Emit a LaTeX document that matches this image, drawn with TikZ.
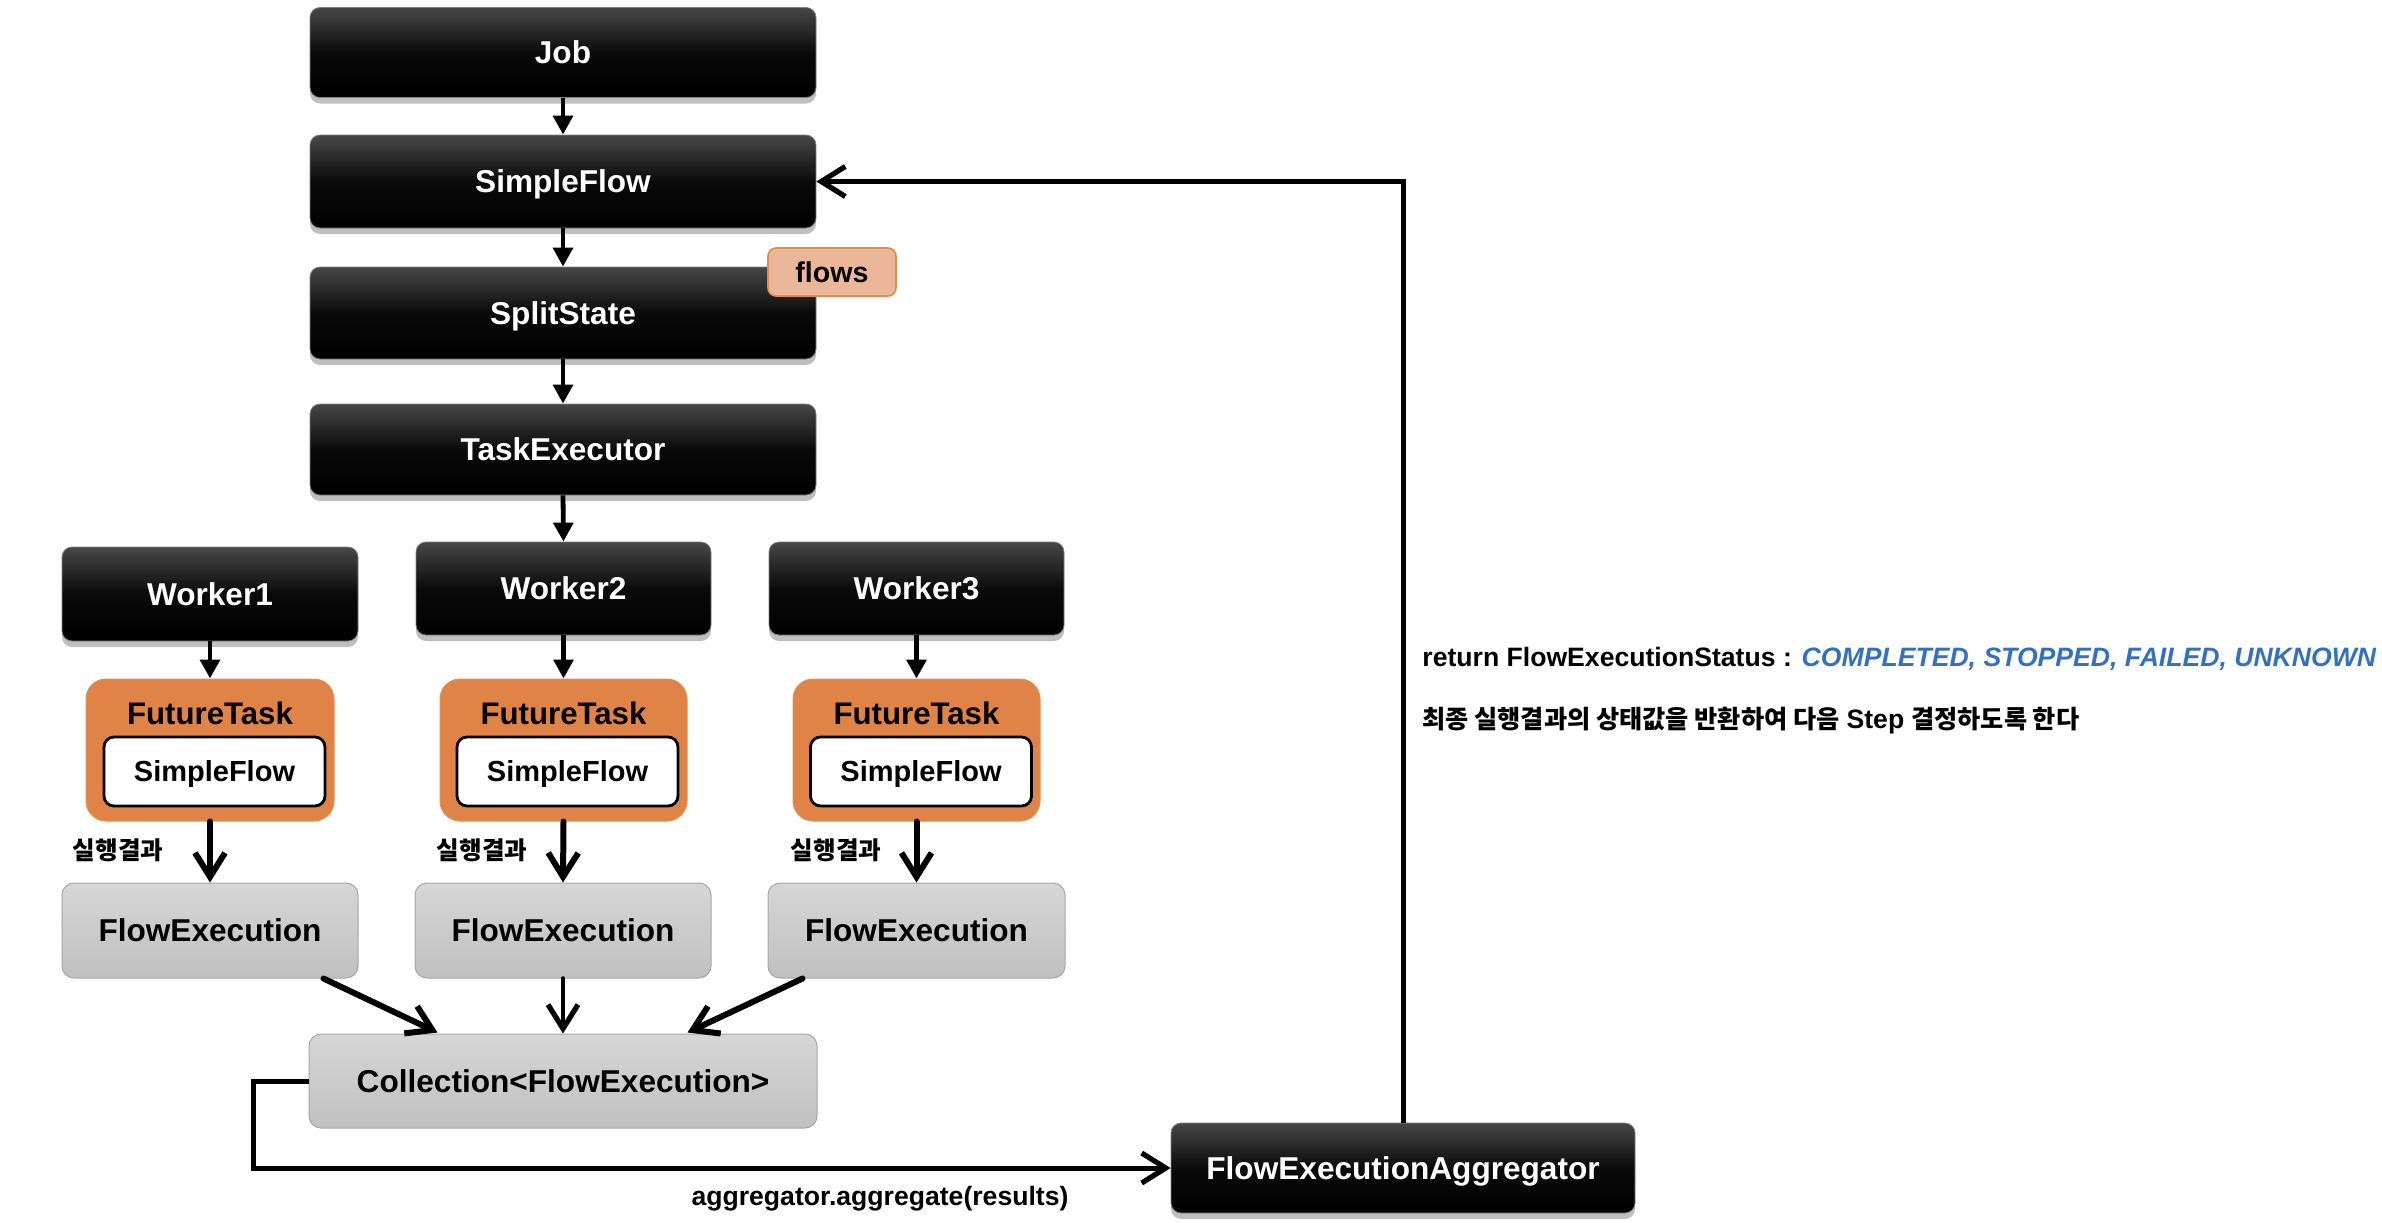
\documentclass[tikz,border=0pt]{standalone}
\usepackage{fontspec}
\setmainfont{Liberation Sans}
\newfontfamily\kr{Noto Sans CJK KR}
\usetikzlibrary{arrows.meta,shadows,calc}
\definecolor{ftorange}{RGB}{224,131,70}
\definecolor{flowsfill}{RGB}{236,182,152}
\definecolor{flowsdraw}{RGB}{226,138,80}
\definecolor{greytop}{RGB}{214,214,214}
\definecolor{greybot}{RGB}{192,192,192}
\definecolor{statusblue}{RGB}{52,112,192}
\begin{document}
\begin{tikzpicture}[x=0.5pt,y=-0.5pt,
  blackbox/.style={rounded corners=5pt, top color=black!72, bottom color=black, middle color=black!96,
    draw=black!50, line width=0.4pt, text=white, inner sep=0pt,
    font=\bfseries\fontsize{15.8}{18}\selectfont, text height=11.3pt, text depth=0pt,
    drop shadow={shadow xshift=0pt, shadow yshift=-3pt, opacity=0.25, fill=black}},
  greybox/.style={rounded corners=6pt, top color=greytop, bottom color=greybot,
    draw=black!35, line width=0.5pt, text=black, inner sep=0pt,
    font=\bfseries\fontsize{15.8}{18}\selectfont, text height=11.3pt, text depth=0pt},
  orangebox/.style={rounded corners=10pt, fill=ftorange, draw=ftorange!90!white, line width=0.5pt, inner sep=0pt},
  innerbox/.style={rounded corners=5pt, fill=white, draw=black, line width=1.4pt, inner sep=0pt,
    font=\bfseries\fontsize{14.5}{17}\selectfont, text height=10.4pt, text depth=0pt},
  tasklabel/.style={font=\bfseries\fontsize{15.6}{18}\selectfont, inner sep=0pt, text height=11.2pt, text depth=0pt},
  flowsbox/.style={rounded corners=4pt, fill=flowsfill, draw=flowsdraw, line width=0.8pt, inner sep=0pt,
    font=\bfseries\fontsize{14.3}{17}\selectfont, text height=10.4pt, text depth=0pt},
  tri/.style={line width=2.4pt, -{Triangle[length=9.5pt,width=9.75pt]}},
  barb/.style={line width=3pt, line cap=round, -{Straight Barb[length=12pt,width=15pt,line width=3pt]}},
  thinbarb/.style={line width=2.3pt, line cap=round, -{Straight Barb[length=12pt,width=15pt,line width=2.6pt]}},
  loopline/.style={line width=2.5pt, -{Straight Barb[length=12pt,width=15pt,line width=2.6pt]}},
  krlabel/.style={font=\kr\bfseries\fontsize{12.3}{14}\selectfont, inner sep=0pt},
  plain/.style={font=\bfseries\fontsize{13.3}{16}\selectfont, inner sep=0pt, text height=9.5pt, text depth=0pt}
]
\useasboundingbox (0,0) rectangle (2382,1222);

% main column
\node[blackbox, minimum width=253pt, minimum height=45pt] (job) at (563,52.5) {Job};
\node[blackbox, minimum width=253pt, minimum height=46.5pt] (sf) at (563,181.5) {SimpleFlow};
\node[blackbox, minimum width=253pt, minimum height=46pt] (split) at (563,313) {SplitState};
\node[flowsbox, minimum width=64pt, minimum height=24pt] (flows) at (832,272) {flows};
\node[blackbox, minimum width=253pt, minimum height=45.5pt] (te) at (563,449.5) {TaskExecutor};

% workers
\node[blackbox, minimum width=148pt, minimum height=47pt] (w1) at (210,594) {Worker1};
\node[blackbox, minimum width=147.5pt, minimum height=46.5pt] (w2) at (563.5,588.5) {Worker2};
\node[blackbox, minimum width=147.5pt, minimum height=46.5pt] (w3) at (916.5,588.5) {Worker3};

% future tasks
\node[orangebox, minimum width=124pt, minimum height=71pt] (ft1) at (210,750) {};
\node[orangebox, minimum width=123.5pt, minimum height=71pt] (ft2) at (563.5,750) {};
\node[orangebox, minimum width=123.5pt, minimum height=71pt] (ft3) at (916.5,750) {};
\node[tasklabel] (ft1t) at (210,713) {FutureTask};
\node[tasklabel] (ft2t) at (563.5,713) {FutureTask};
\node[tasklabel] (ft3t) at (916.5,713) {FutureTask};
\node[innerbox, minimum width=110.5pt, minimum height=34.5pt] (in1) at (214.5,771.5) {SimpleFlow};
\node[innerbox, minimum width=110.5pt, minimum height=34.5pt] (in2) at (567.5,771.5) {SimpleFlow};
\node[innerbox, minimum width=110.5pt, minimum height=34.5pt] (in3) at (921,771.5) {SimpleFlow};

% flow executions
\node[greybox, minimum width=148pt, minimum height=47.5pt] (fe1) at (210,930.5) {FlowExecution};
\node[greybox, minimum width=148pt, minimum height=47.5pt] (fe2) at (563,930.5) {FlowExecution};
\node[greybox, minimum width=148.5pt, minimum height=47.5pt] (fe3) at (916.5,930.5) {FlowExecution};

\node[krlabel] (r1) at (118,850) {실행결과};
\node[krlabel] (r2) at (482,850) {실행결과};
\node[krlabel] (r3) at (836,850) {실행결과};

% collection
\node[greybox, minimum width=254pt, minimum height=47pt] (coll) at (563,1081) {Collection<FlowExecution>};

% aggregator
\node[blackbox, minimum width=232pt, minimum height=45pt] (agg) at (1403,1168) {FlowExecutionAggregator};

\node[plain] (aggtext) at (880,1196) {aggregator.aggregate(results)};

\node[plain, anchor=west] (ret) at (1422,657) {return FlowExecutionStatus : \textcolor{statusblue}{\itshape COMPLETED, STOPPED, FAILED, UNKNOWN}};
\node[anchor=west, inner sep=0pt, font=\fontsize{12.6}{15}\selectfont] (krline) at (1422,721)
  {{\kr\bfseries 최종 실행결과의 상태값을 반환하여 다음} \textbf{\fontsize{13.3}{15}\selectfont Step} {\kr\bfseries 결정하도록 한다}};

% arrows
\draw[tri] (job.south) -- (sf.north);
\draw[tri] (sf.south) -- (split.north);
\draw[tri] (split.south) -- (te.north);
\draw[tri] (te.south) -- (w2.north);
\draw[tri] (w1.south) -- (ft1.north);
\draw[tri] (w2.south) -- (ft2.north);
\draw[tri] (w3.south) -- (ft3.north);

\draw[barb] (ft1.south) -- (fe1.north);
\draw[barb] (ft2.south) -- (fe2.north);
\draw[barb] (ft3.south) -- (fe3.north);

\draw[barb] ($(fe1.south east)+(-35,0)$) -- ($(coll.north west)+(129,-1)$);
\draw[thinbarb] (fe2.south) -- (coll.north);
\draw[barb] ($(fe3.south west)+(35,0)$) -- ($(coll.north east)+(-130,-1)$);

\draw[loopline] (coll.west) -- ++(-55,0) |- (agg.west);
\draw[loopline] (agg.north) |- (sf.east);
\end{tikzpicture}
\end{document}
